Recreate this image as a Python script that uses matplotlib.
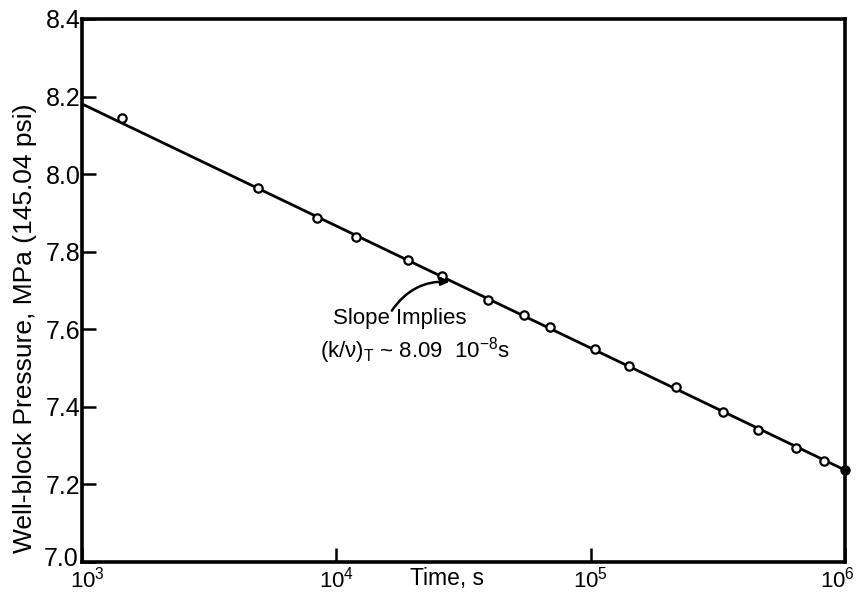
import matplotlib
matplotlib.use("Agg")
import matplotlib.pyplot as plt
import matplotlib.transforms as mtransforms

plt.rcParams['font.family'] = ['Liberation Sans', 'DejaVu Sans']
plt.rcParams['mathtext.fontset'] = 'custom'
plt.rcParams['mathtext.rm'] = 'Liberation Sans'
plt.rcParams['mathtext.it'] = 'Liberation Sans'

# Measured well-block pressure vs. time
time_s = [1435, 4930, 8410, 12000, 19200, 26100, 39600, 54500, 69000,
          104000, 141000, 216000, 331000, 454000, 641000, 827000]
pressure_mpa = [8.145, 7.964, 7.887, 7.838, 7.779, 7.737, 7.676, 7.637, 7.606,
                7.549, 7.505, 7.451, 7.387, 7.340, 7.294, 7.260]

# Final reading at the end of the test
final_time = [1.0e6]
final_pressure = [7.237]

# Straight-line fit on the semilog plot
fit_time = [1.0e3, 1.0e6]
fit_pressure = [8.181, 7.237]

y_ticks = [7.0, 7.2, 7.4, 7.6, 7.8, 8.0, 8.2, 8.4]
y_tick_labels = ['7.0', '7.2', '7.4', '7.6', '7.8', '8.0', '8.2', '8.4']
x_ticks = [1e3, 1e4, 1e5, 1e6]
x_tick_labels = [r'$\mathregular{10^{3}}$', r'$\mathregular{10^{4}}$',
                 r'$\mathregular{10^{5}}$', r'$\mathregular{10^{6}}$']

fig = plt.figure(figsize=(8.57, 5.94), dpi=100)
ax = fig.add_axes([82 / 857, 1 - 562 / 594, (845 - 82) / 857, (562 - 19) / 594])

ax.set_xscale('log')
ax.set_xlim(1e3, 1e6)
ax.set_ylim(7.0, 8.4)

ax.plot(fit_time, fit_pressure, color='black', lw=2.0, zorder=2)
ax.plot(time_s, pressure_mpa, linestyle='none', marker='o', ms=6,
        mfc='white', mec='black', mew=1.6, zorder=3)
ax.plot(final_time, final_pressure, linestyle='none', marker='o', ms=6.5,
        mfc='black', mec='black', zorder=4, clip_on=False)

ax.set_yticks(y_ticks)
ax.set_yticklabels(y_tick_labels, fontsize=18)
ax.set_xticks(x_ticks)
ax.set_xticklabels(x_tick_labels, fontsize=16)
ax.xaxis.set_minor_locator(matplotlib.ticker.NullLocator())
ax.tick_params(axis='both', which='major', direction='in', length=10, width=1.8)
ax.tick_params(axis='y', pad=1)
ax.tick_params(axis='x', pad=3)

# Lift the lowest pressure label clear of the first time label,
# and pull the last time label inside the figure edge
ylabels = ax.get_yticklabels()
ylabels[0].set_transform(ylabels[0].get_transform() +
                         mtransforms.ScaledTranslation(-2 / 100, 6 / 100, fig.dpi_scale_trans))
xlabels = ax.get_xticklabels()
xlabels[0].set_transform(xlabels[0].get_transform() +
                         mtransforms.ScaledTranslation(5 / 100, 0, fig.dpi_scale_trans))
xlabels[-1].set_transform(xlabels[-1].get_transform() +
                          mtransforms.ScaledTranslation(-8 / 100, 0, fig.dpi_scale_trans))

for sp in ax.spines.values():
    sp.set_linewidth(2.6)

fig.text(25 / 857, 1 - 328 / 594, 'Well-block Pressure, MPa (145.04 psi)',
         rotation=90, ha='center', va='center', fontsize=19)
fig.text(447 / 857, 1 - 578 / 594, 'Time, s', ha='center', va='center',
         fontsize=16.5)

# Annotation for the slope
ax.text(9700, 7.629, 'Slope Implies', fontsize=16, ha='left', va='center')
ax.text(8600, 7.545, r'$\mathregular{(k/\nu)_T}$ ~ 8.09  10$^{\mathregular{-8}}$s',
        fontsize=16, ha='left', va='center')
ax.annotate('', xy=(28600, 7.722), xytext=(16300, 7.642),
            arrowprops=dict(arrowstyle='-|>', color='black', lw=1.8,
                            mutation_scale=12,
                            connectionstyle='arc3,rad=-0.3'))

fig.savefig('out.png', dpi=100)
